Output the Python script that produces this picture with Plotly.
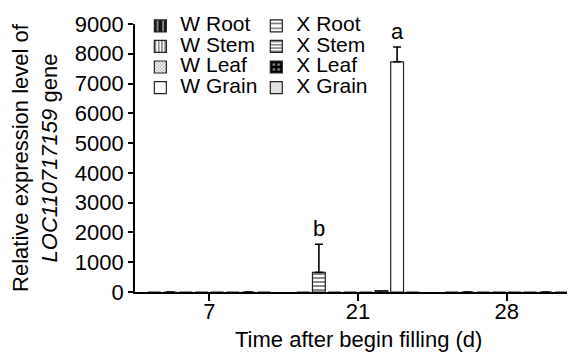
import plotly.graph_objects as go

# ---- data ----
days = ["7", "21", "28"]
series_names = ["X Root", "X Stem", "X Leaf", "X Grain", "W Stem", "W Root", "W Grain", "W Leaf"]
x_root = [0, 0, 0]
x_stem = [0, 660, 0]
x_leaf = [0, 0, 0]
x_grain = [0, 0, 0]
w_stem = [0, 0, 0]
w_root = [0, 45, 0]
w_grain = [0, 7730, 0]
w_leaf = [0, 0, 0]
x_stem_err = [0, 945, 0]
w_grain_err = [0, 500, 0]
letters = {"X Stem": "b", "W Grain": "a"}
x_title = "Time after begin filling (d)"
y_title = "Relative expression level of<br><i>LOC110717159</i> gene"

values = {
    "X Root": x_root, "X Stem": x_stem, "X Leaf": x_leaf, "X Grain": x_grain,
    "W Stem": w_stem, "W Root": w_root, "W Grain": w_grain, "W Leaf": w_leaf,
}
errors = {"X Stem": x_stem_err, "W Grain": w_grain_err}

# ---- styles ----
styles = {
    "W Root": dict(bg="#111111", fg="#ffffff", shape="|", size=7, solidity=0.35),
    "W Stem": dict(bg="#ffffff", fg="#000000", shape="|", size=4, solidity=0.45),
    "W Leaf": dict(bg="#ffffff", fg="#555555", shape="x", size=3, solidity=0.5),
    "W Grain": dict(bg="#ffffff", fg="#ffffff", shape="", size=8, solidity=0.3),
    "X Root": dict(bg="#ffffff", fg="#000000", shape="-", size=6, solidity=0.35),
    "X Stem": dict(bg="#ffffff", fg="#000000", shape="-", size=4, solidity=0.45),
    "X Leaf": dict(bg="#000000", fg="#ffffff", shape=".", size=6, solidity=0.3),
    "X Grain": dict(bg="#e2e2e2", fg="#e2e2e2", shape="", size=8, solidity=0.3),
}
legend_rank = {"W Root": 1, "W Stem": 2, "W Leaf": 3, "W Grain": 4,
               "X Root": 1, "X Stem": 2, "X Leaf": 3, "X Grain": 4}

FONT = "Liberation Sans, Arial, sans-serif"
FS = 22
LFS = 21
BARGAP = 0.158
GROUPGAP = 0.18
n = len(series_names)
slot = (1 - BARGAP) / n
M_T, M_B = 16, 68
PLOT_H = 352 - M_T - M_B

fig = go.Figure()
for k, name in enumerate(series_names):
    st = styles[name]
    err = errors.get(name)
    eb = None
    if err is not None:
        eb = dict(type="data", array=err, arrayminus=[0] * len(err), symmetric=False,
                  color="black", thickness=1.6, width=4)
    fig.add_trace(go.Bar(
        x=days, y=values[name],
        name=f'<span style="font-size:{LFS}px">{name}</span>',
        legend="legend" if name.startswith("W") else "legend2",
        legendrank=legend_rank[name],
        marker=dict(color=st["bg"],
                    line=dict(color="#222222", width=1.2),
                    pattern=dict(shape=st["shape"], fgcolor=st["fg"], bgcolor=st["bg"],
                                 size=st["size"], solidity=st["solidity"], fillmode="overlay")),
        error_y=eb,
    ))
    if name in letters:
        idx = 1
        top = values[name][idx] + err[idx]
        fig.add_annotation(x=idx + (k - (n - 1) / 2) * slot, y=top, text=letters[name],
                           showarrow=False, yanchor="bottom", yshift=1,
                           font=dict(family=FONT, size=FS, color="black"))

# x-axis title
fig.add_annotation(xref="paper", yref="paper", x=0.5, y=-47 / PLOT_H, text=x_title,
                   showarrow=False, xanchor="center", yanchor="middle",
                   font=dict(family=FONT, size=FS, color="black"))

# small tick at right end of x axis
fig.add_shape(type="line", xref="x", yref="paper", x0=2.5, x1=2.5, y0=0, y1=-7 / PLOT_H,
              line=dict(color="black", width=1.6))

legend_common = dict(font=dict(family=FONT, size=13.5, color="black"),
                     bgcolor="rgba(0,0,0,0)", xanchor="left", yanchor="top",
                     orientation="v", tracegroupgap=0, traceorder="normal")

fig.update_layout(
    width=575, height=352,
    margin=dict(l=127, r=2, t=M_T, b=M_B),
    paper_bgcolor="white", plot_bgcolor="white",
    barmode="group", bargap=BARGAP, bargroupgap=GROUPGAP,
    font=dict(family=FONT, size=FS, color="black"),
    legend=dict(x=0.012, y=1.05, **legend_common),
    legend2=dict(x=0.272, y=1.05, **legend_common),
    showlegend=True,
)
fig.update_xaxes(
    type="category", range=[-0.5, 2.5],
    showline=True, linecolor="black", linewidth=1.6,
    ticks="outside", ticklen=7, tickwidth=1.6, tickcolor="black",
    tickfont=dict(family=FONT, size=FS), ticklabelstandoff=-8,
    showgrid=False, zeroline=False, automargin=False,
)
fig.update_yaxes(
    range=[0, 9000], dtick=1000, tick0=0,
    showline=True, linecolor="black", linewidth=1.6,
    ticks="outside", ticklen=5, tickwidth=1.6, tickcolor="black",
    tickfont=dict(family=FONT, size=FS),
    title=dict(text=y_title, font=dict(family=FONT, size=FS), standoff=16),
    showgrid=False, zeroline=False, automargin=False,
)

fig.write_html("out.html")
